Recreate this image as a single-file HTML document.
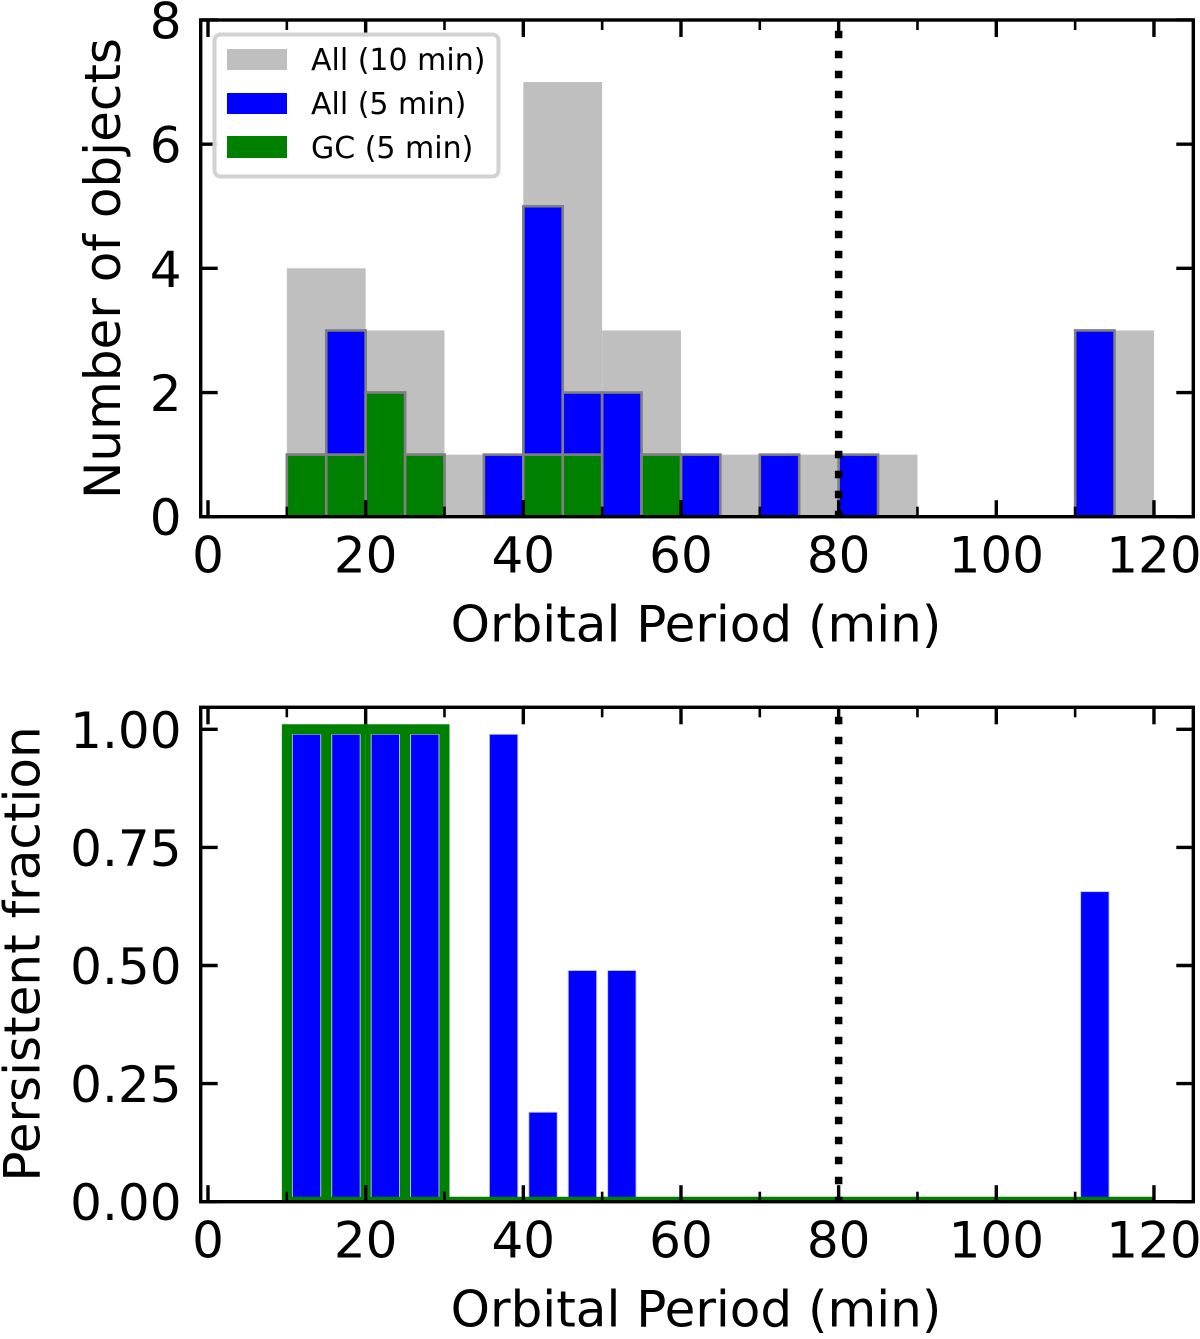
<!DOCTYPE html>
<html>
<head>
<meta charset="utf-8">
<style>
html,body{margin:0;padding:0;background:#fff;width:1200px;height:1339px;overflow:hidden}
svg{display:block}
text{font-family:"DejaVu Sans","Liberation Sans",sans-serif;fill:#000}
</style>
</head>
<body>
<svg id="chart" xmlns="http://www.w3.org/2000/svg" width="1200" height="1339" viewBox="0 0 1200 1339">
  <g id="top"></g>
  <g id="bottom"></g>
  <g>
    <rect x="214.5" y="34.5" width="284" height="142" rx="6" fill="#fff" fill-opacity="0.9" stroke="#d2d2d2" stroke-width="4"/>
    <rect x="227" y="49" width="60" height="21" fill="#bfbfbf"/>
    <rect x="227" y="93" width="60" height="21" fill="#0000ff"/>
    <rect x="227" y="136" width="60" height="22" fill="#008000"/>
    <text x="311" y="70" font-size="30">All (10 min)</text>
    <text x="311" y="114" font-size="30">All (5 min)</text>
    <text x="311" y="158" font-size="30">GC (5 min)</text>
  </g>
</svg>
<script>
// Top panel data: bin starts and counts
const gray10Bins = [10, 20, 30, 40, 50, 60, 70, 80, 110];
const gray10Counts = [4, 3, 1, 7, 3, 1, 1, 1, 3];
const blue5Bins = [10, 15, 20, 25, 35, 40, 45, 50, 55, 60, 70, 80, 110];
const blue5Counts = [1, 3, 2, 1, 1, 5, 2, 2, 1, 1, 1, 1, 3];
const green5Bins = [10, 15, 20, 25, 40, 45, 55];
const green5Counts = [1, 1, 2, 1, 1, 1, 1];
// Bottom panel data
const fractionBins = [10, 15, 20, 25, 35, 40, 45, 50, 110];
const fractionValues = [1, 1, 1, 1, 1, 0.2, 0.5, 0.5, 0.667];
const gcFractionBins = [10, 20, 30, 120];
const gcFractionValues = [1, 1, 0];
// Axis ticks
const xMajorTicks = [0, 20, 40, 60, 80, 100, 120];
const xMinorTicks = [10, 30, 50, 70, 90, 110];
const topYTicks = [0, 2, 4, 6, 8];
const bottomYTicks = [0, 0.25, 0.5, 0.75, 1];
const bottomYLabels = ['0.00', '0.25', '0.50', '0.75', '1.00'];
const referencePeriod = 80;

const NS = 'http://www.w3.org/2000/svg';
const X = v => 208 + v * 7.883;
const yTop = v => 516.7 - v * 62.09;
const yBot = v => 1201.7 - v * 472.4;
const L = 200.7, R = 1193.3;

function mk(parent, tag, attrs, txt) {
  const el = document.createElementNS(NS, tag);
  for (const k in attrs) el.setAttribute(k, attrs[k]);
  if (txt !== undefined) el.textContent = txt;
  parent.appendChild(el);
  return el;
}

function histBars(parent, bins, counts, width, fill, stroke, sw, name) {
  bins.forEach((b, i) => {
    const y = yTop(counts[i]);
    const el = mk(parent, 'rect', {x: X(b), y: y, width: X(b + width) - X(b), height: yTop(0) - y, fill: fill, stroke: stroke, 'stroke-width': sw});
    
    
  });
}

function frame(parent, T, B, yFn, yTicks, yLabels, panel, dashStart) {
  // dotted reference line
  const clipId = 'clip-' + panel;
  const cp = mk(parent, 'clipPath', {id: clipId});
  mk(cp, 'rect', {x: L, y: T, width: R - L, height: B - T});
  const ref = mk(parent, 'line', {x1: X(referencePeriod), x2: X(referencePeriod), y1: dashStart, y2: B, stroke: '#000', 'stroke-width': 7.5, 'stroke-dasharray': '7.5 12.5', 'clip-path': 'url(#' + clipId + ')'});
  
  

  // x ticks
  xMajorTicks.forEach(v => {
    const a = mk(parent, 'line', {x1: X(v), x2: X(v), y1: B, y2: B - 16.5, stroke: '#000', 'stroke-width': 3.4});
    
    
    const b = mk(parent, 'line', {x1: X(v), x2: X(v), y1: T, y2: T + 17, stroke: '#000', 'stroke-width': 3.4});
    
    
    const t = mk(parent, 'text', {x: X(v), y: B + 56, 'font-size': 50, 'text-anchor': 'middle'}, String(v));
    
    
  });
  xMinorTicks.forEach(v => {
    const a = mk(parent, 'line', {x1: X(v), x2: X(v), y1: B, y2: B - 10, stroke: '#000', 'stroke-width': 2.6});
    
    
    const b = mk(parent, 'line', {x1: X(v), x2: X(v), y1: T, y2: T + 10, stroke: '#000', 'stroke-width': 2.6});
    
    
  });
  // y ticks
  yTicks.forEach((v, i) => {
    const y = yFn(v);
    const a = mk(parent, 'line', {x1: L, x2: L + 17, y1: y, y2: y, stroke: '#000', 'stroke-width': 3.4});
    
    
    const b = mk(parent, 'line', {x1: R, x2: R - 17, y1: y, y2: y, stroke: '#000', 'stroke-width': 3.4});
    
    
    const t = mk(parent, 'text', {x: 181.5, y: y + 18.5, 'font-size': 50, 'text-anchor': 'end'}, yLabels[i]);
    
    
  });
  const s = mk(parent, 'rect', {x: L, y: T, width: R - L, height: B - T, fill: 'none', stroke: '#000', 'stroke-width': 3.4});
  
  
  const xl = mk(parent, 'text', {x: 696, y: B + 125, 'font-size': 50, 'text-anchor': 'middle'}, 'Orbital Period (min)');
  
  
}

// TOP PANEL
const top_ = document.getElementById('top');
histBars(top_, gray10Bins, gray10Counts, 10, '#bfbfbf', 'none', 0, 'bar-all-10min');
histBars(top_, blue5Bins, blue5Counts, 5, '#0000ff', '#808080', 2.6, 'bar-all-5min');
histBars(top_, green5Bins, green5Counts, 5, '#008000', '#808080', 2.6, 'bar-gc-5min');
frame(top_, 20, 516.7, yTop, topYTicks, topYTicks.map(String), 'top', 10.7);
const yl1 = mk(top_, 'text', {transform: 'translate(120,268.5) rotate(-90)', 'font-size': 50, 'text-anchor': 'middle'}, 'Number of objects');



// BOTTOM PANEL
const bot = document.getElementById('bottom');
const clipB = mk(bot, 'clipPath', {id: 'clip-gc'});
mk(clipB, 'rect', {x: L, y: 707, width: R - L, height: 1201.7 - 707});
// GC fill behind blue
gcFractionBins.slice(0, 3).forEach((b, i) => {
  const x0 = X(b), x1 = X(gcFractionBins[i + 1]), v = gcFractionValues[i];
  if (v > 0) {
    const f = mk(bot, 'rect', {x: x0, y: yBot(v), width: x1 - x0, height: yBot(0) - yBot(v), fill: '#008000'});
    
    
  }
});
// blue bars: white edge of about 5.5px eats into each bar
fractionBins.forEach((b, i) => {
  const top = yBot(fractionValues[i]) + 5;
  const el = mk(bot, 'rect', {x: X(b + 0.7), y: top, width: X(b + 4.3) - X(b + 0.7), height: yBot(0) - 4 - top, fill: '#0000ff', stroke: '#c4c8e4', 'stroke-width': 0.9});
  
  
});
// GC step outline
let d = 'M' + X(gcFractionBins[0]) + ' ' + yBot(0);
gcFractionBins.slice(0, 3).forEach((b, i) => {
  const y = yBot(gcFractionValues[i]);
  d += ' L' + X(b) + ' ' + y + ' L' + X(gcFractionBins[i + 1]) + ' ' + y;
});
d += ' L' + X(gcFractionBins[0]) + ' ' + yBot(0) + ' Z';
const stepOutline = mk(bot, 'path', {d: d, fill: 'none', stroke: '#008000', 'stroke-width': 10, 'stroke-linejoin': 'miter', 'clip-path': 'url(#clip-gc)'});


frame(bot, 707.3, 1201.7, yBot, bottomYTicks, bottomYLabels, 'bottom', 696.7);
const yl2 = mk(bot, 'text', {transform: 'translate(39.5,954) rotate(-90)', 'font-size': 50, 'text-anchor': 'middle'}, 'Persistent fraction');


</script>
</body>
</html>
